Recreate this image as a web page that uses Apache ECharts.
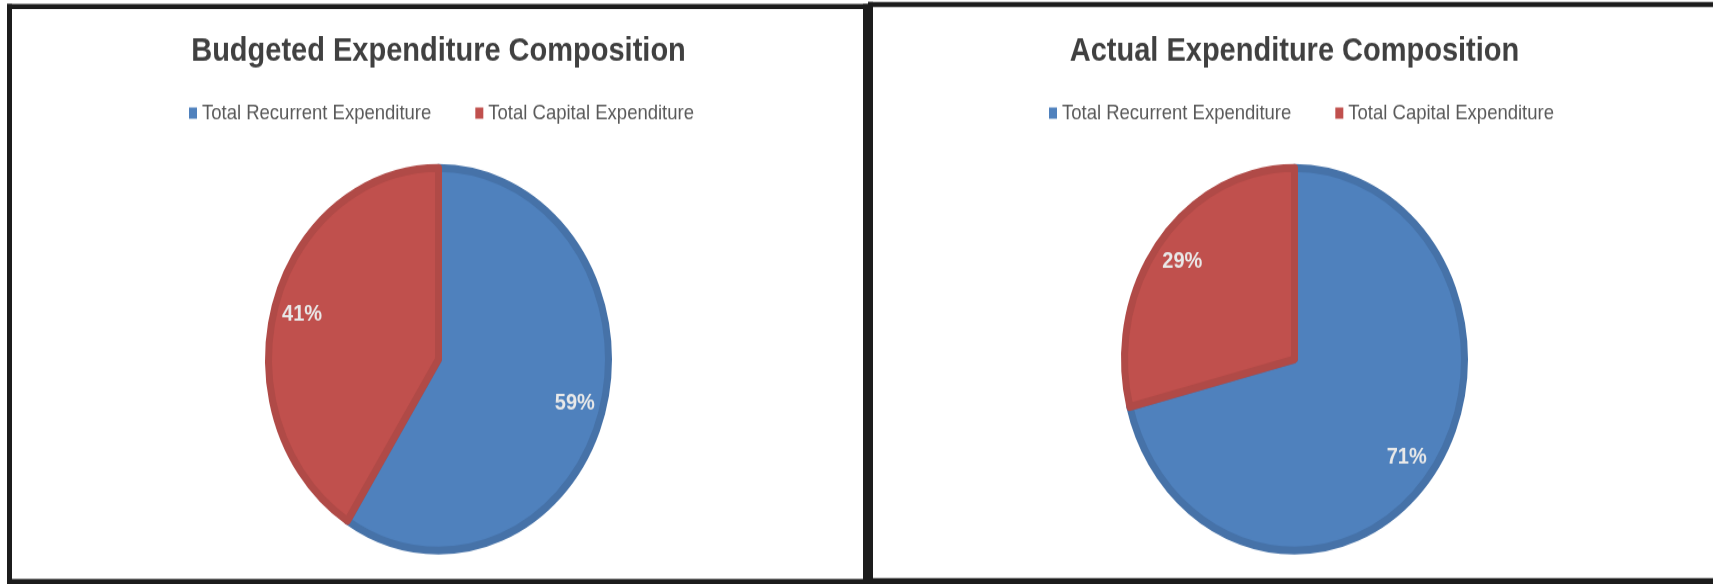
<!DOCTYPE html>
<html>
<head>
<meta charset="utf-8">
<script src="https://cdn.jsdelivr.net/npm/echarts@6/dist/echarts.min.js"></script>
<style>
html,body{margin:0;padding:0;background:#fff;overflow:hidden;}
#wrap{width:1713px;height:584px;overflow:hidden;position:relative;}
#chart{width:1713px;height:519px;transform:scaleY(1.12524);transform-origin:0 0;}
</style>
</head>
<body>
<div id="wrap"><div id="chart"></div></div>
<script>
// ---- data ----
const categories = ['Total Recurrent Expenditure', 'Total Capital Expenditure'];
const titles = ['Budgeted Expenditure Composition', 'Actual Expenditure Composition'];
const budgetedShares = [59, 41];
const actualShares = [71, 29];

const K = 1.12524; // vertical stretch of the reference picture
const fill = ['#4F81BD', '#C0504D'];
const edge = ['#4672A8', '#B04A47'];
const centers = [[438.5, 319.3], [1294.5, 319.3]];
const R = 170;

function mkData(vals){
  return categories.map((c,i)=>({name:c, value:vals[i],
    itemStyle:{color:fill[i], borderColor:edge[i], borderWidth:7}}));
}
function mkLabelData(vals){
  return categories.map((c,i)=>({name:c, value:vals[i]}));
}
function bar(x0,y0,x1,y1){
  return {type:'rect', silent:true, shape:{x:x0, y:y0/K, width:x1-x0, height:(y1-y0)/K},
    style:{fill:'#1c1c1c'}};
}

const allShares = [budgetedShares, actualShares];
const series = [];
allShares.forEach((vals,p)=>{
  series.push({type:'pie', center:centers[p], radius:[0,R], startAngle:90, clockwise:true,
    label:{show:false}, labelLine:{show:false}, silent:true,
    emphasis:{disabled:true}, data:mkData(vals)});
});
allShares.forEach((vals,p)=>{
  series.push({type:'pie', center:centers[p], radius:[105,173], startAngle:90, clockwise:true,
    silent:true, emphasis:{disabled:true},
    itemStyle:{color:'rgba(0,0,0,0)', borderWidth:0},
    label:{show:true, position:'inside', formatter:'{c}%', color:'#e9e9e9',
      fontFamily:'Liberation Sans', fontWeight:'bold', fontSize:20},
    labelLine:{show:false}, data:mkLabelData(vals)});
});

const chart = echarts.init(document.getElementById('chart'));
chart.setOption({
  animation:false,
  backgroundColor:'#fff',
  title: titles.map((t,p)=>({text:t, left:centers[p][0], top:31, padding:0, textAlign:'center',
    textStyle:{fontFamily:'Liberation Sans', fontWeight:'bold', fontSize:29, color:'#404040'}})),
  legend: [189, 1049].map(x=>({data:categories, left:x, top:91, padding:0, orient:'horizontal',
    icon:'rect', itemWidth:8, itemHeight:10, itemGap:44, selectedMode:false,
    itemStyle:{borderWidth:0},
    textStyle:{fontFamily:'Liberation Sans', fontSize:18.5, color:'#595959'}})),
  graphic: [
    bar(7,4,12,584), bar(7,4,868,9), bar(863,4,868,584), bar(7,579,868,584),
    bar(868,2,1713,7), bar(868,2,873,584), bar(868,578,1713,584)
  ],
  series: series
});
</script>
</body>
</html>
